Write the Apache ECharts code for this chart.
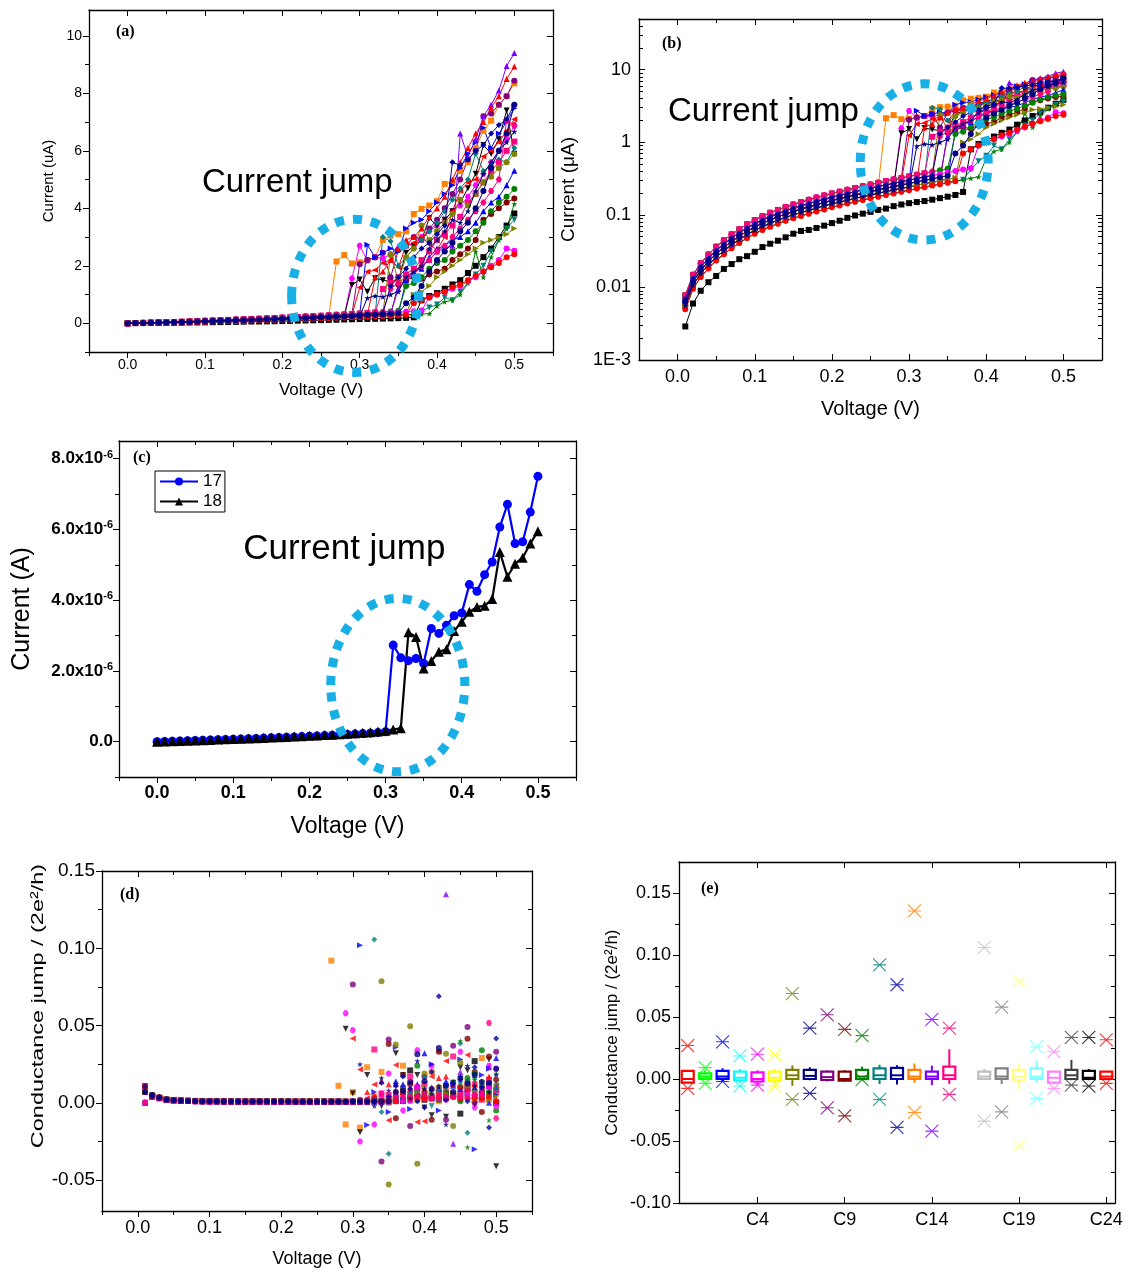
<!DOCTYPE html>
<html>
<head>
<meta charset="utf-8">
<script src="https://cdn.jsdelivr.net/npm/echarts@6/dist/echarts.min.js"></script>
<style>
  html, body { margin: 0; padding: 0; background: #fff; }
  #chart { width: 1136px; height: 1279px; }
</style>
</head>
<body>
<div id="chart"></div>
<script>
// ---------------------------------------------------------------------------
// Bias voltages (V) of the I-V sweeps
const volts = [0.00, 0.01, 0.02, 0.03, 0.04, 0.05, 0.06, 0.07, 0.08, 0.09,
  0.10, 0.11, 0.12, 0.13, 0.14, 0.15, 0.16, 0.17, 0.18, 0.19,
  0.20, 0.21, 0.22, 0.23, 0.24, 0.25, 0.26, 0.27, 0.28, 0.29,
  0.30, 0.31, 0.32, 0.33, 0.34, 0.35, 0.36, 0.37, 0.38, 0.39,
  0.40, 0.41, 0.42, 0.43, 0.44, 0.45, 0.46, 0.47, 0.48, 0.49, 0.50];

// Low-bias branches of the sweeps (uA), before the current jump
const lowA = [0, .0078, .0149, .0216, .0284, .0365, .0446, .054, .0635, .0743, .085, .0959, .107, .117, .128, .139, .150, .161, .173, .185, .197, .209, .221, .235, .248, .262, .277, .292, .306, .323, .339, .356, .374, .393, .412, .432, .452, .474, .495, .518, .541];
const lowB = [0, .0070, .0132, .0192, .0252, .0324, .0396, .048, .0564, .066, .0756, .0852, .0948, .104, .114, .124, .133, .143, .154, .164, .175, .186, .197, .209, .221, .233, .246, .259, .272, .287, .301, .317, .332, .349, .366, .384, .402, .421, .440, .461, .481];
const lowC = [0, .0063, .0119, .0173, .0227, .0292, .0356, .0432, .0508, .0594, .068, .0767, .0853, .094, .1026, .111, .120, .129, .138, .148, .158, .167, .177, .188, .199, .210, .221, .233, .245, .258, .271, .285, .299, .314, .329, .346, .362, .379, .396, .415, .433];
const lowD = [0, .0056, .0107, .0155, .0204, .0262, .032, .0388, .0456, .0534, .0611, .0689, .0766, .0844, .0922, .0999, .108, .115, .124, .133, .142, .150, .159, .169, .178, .188, .199, .210, .220, .232, .243, .256, .269, .282, .296, .310, .325, .340, .356, .372, .389];
const lowE = [0, .0050, .0096, .0139, .0183, .0235, .0287, .0348, .0409, .0479, .0548, .0618, .0687, .0757, .0827, .0896, .0966, .104, .111, .119, .127, .135, .143, .151, .160, .169, .178, .188, .197, .208, .218, .230, .241, .253, .265, .278, .291, .305, .319, .334, .349];
const lowBlack = [0, .0029, .0060, .0090, .0118, .0144, .018, .021, .0245, .027, .031, .036, .040, .044, .049, .055, .060, .062, .066, .071, .077, .083, .091, .098, .104, .110, .117, .122, .132, .139, .145, .150, .155, .162, .170, .178, .188, .207];

// Current (uA) from the jump up to 0.50 V, one array per sweep
const iv1 = [0.80, 0.95, 1.05, 1.2, 1.35, 1.5, 1.75, 2.0, 2.3, 2.6, 3.0, 3.4, 3.82];
const iv2 = [2.15, 2.37, 2.08, 2.12, 2.2, 2.3, 2.9, 3.05, 3.1, 3.2, 3.8, 3.98, 4.1, 4.25, 4.85, 4.92, 5.3, 5.6, 6.1, 6.7, 7.05, 7.6, 7.9, 8.35];
const iv3 = [1.56, 2.7, 2.18, 2.3, 2.25, 2.4, 2.6, 2.8, 2.7, 3.0, 3.2, 3.4, 3.6, 3.9, 4.1, 4.4, 4.8, 5.2, 5.6, 6.0, 6.4, 6.86];
const iv4 = [1.33, 1.52, 1.1, 1.57, 1.5, 1.45, 1.5, 2.45, 2.7, 2.9, 3.65, 3.4, 3.6, 3.9, 4.2, 4.7, 5.2, 6.2, 5.9, 6.4, 7.4, 5.9];
const iv5 = [2.05, 2.2, 2.3, 2.45, 1.6, 2.55, 2.7, 3.0, 2.9, 3.3, 3.6, 4.0, 4.5, 5.0, 5.7, 6.0, 7.2, 7.3, 7.6, 7.9, 8.44];
const iv6 = [1.24, 1.79, 1.85, 2.1, 2.2, 1.95, 2.7, 2.8, 3.0, 2.75, 2.55, 3.0, 3.9, 4.6, 4.9, 5.0, 5.8, 6.0, 6.3, 6.7, 7.1];
const iv7 = [2.73, 2.3, 2.45, 2.6, 2.5, 3.3, 3.5, 3.6, 3.9, 4.2, 4.5, 4.8, 5.4, 5.9, 6.3, 6.8, 6.1, 6.6, 7.0, 7.48];
const iv8 = [0.88, 0.95, 0.92, 1.0, 1.1, 1.6, 1.8, 2.0, 2.6, 2.9, 3.2, 3.6, 3.5, 3.9, 4.6, 5.2, 5.6, 6.0, 6.3, 6.67];
const iv9 = [3.0, 2.85, 2.0, 2.3, 2.6, 2.9, 3.2, 3.5, 3.9, 4.3, 4.7, 5.0, 5.9, 5.3, 5.5, 5.7, 5.6, 6.1];
const iv10 = [1.19, 1.4, 1.6, 1.7, 1.9, 2.2, 2.5, 2.9, 3.1, 3.4, 3.7, 4.2, 4.5, 4.9, 5.3, 5.6, 6.0, 6.32];
const iv11 = [2.38, 1.5, 2.3, 2.6, 3.4, 2.9, 3.2, 3.5, 3.8, 4.3, 4.1, 4.5, 4.9, 5.1, 5.4, 5.6, 5.89];
const iv12 = [1.35, 1.5, 1.6, 1.55, 1.7, 1.8, 1.9, 2.2, 2.4, 2.6, 2.9, 3.6, 3.8, 4.0, 4.2, 4.34];
const iv13 = [1.3, 1.6, 1.9, 2.3, 2.6, 2.8, 3.1, 3.4, 5.6, 5.5, 5.7, 6.0, 6.2, 6.6, 6.9, 7.1, 7.6];
const iv14 = [1.2, 1.5, 1.7, 2.0, 2.2, 2.5, 2.6, 2.7, 6.6, 5.8, 6.4, 7.2, 7.6, 8.1, 8.95, 9.4];
const iv15 = [1.5, 1.8, 1.9, 2.3, 2.6, 2.7, 2.9, 3.0, 3.2, 3.5, 3.9, 4.2, 4.4, 4.8, 5.31];
const iv16 = [1.3, 1.4, 1.6, 1.9, 2.1, 2.2, 2.5, 2.7, 2.9, 3.2, 3.5, 3.9, 4.2, 4.4, 4.67];
const iv17 = [1.6, 1.8, 2.2, 2.6, 2.9, 3.0, 3.3, 3.7, 4.0, 4.4, 5.0, 5.6, 6.1, 6.6, 7.0, 7.5, 7.9, 8.5, 8.93];
const iv18 = [0.42, 0.55, 0.65, 0.9, 0.8, 1.1, 1.4, 1.7, 2.0, 2.5, 2.9, 3.3, 3.6];
const iv19 = [0.6, 0.75, 0.8, 1.0, 1.4, 2.5, 1.6, 2.3, 2.9, 3.3, 4.15];
const iv20 = [1.0, 1.1, 1.3, 1.6, 1.8, 2.0, 2.2, 2.4, 2.6, 2.8, 2.9, 3.0, 3.1, 3.3];
const iv21 = [0.9, 1.0, 1.1, 1.2, 1.3, 1.45, 1.6, 1.8, 2.0, 2.2, 2.6, 2.52];
const iv22 = [0.7, 0.8, 0.9, 1.0, 1.1, 1.25, 1.35, 1.5, 1.65, 1.8, 1.95, 2.1, 2.3, 2.4];
const iv23 = [0.7, 0.9, 1.3, 1.8, 2.2, 2.5, 2.8, 3.2, 3.5, 4.0, 4.6, 5.4, 6.0, 6.6, 7.6];
const iv24 = [1.2, 1.4, 1.6, 1.8, 2.0, 2.2, 2.5, 2.7, 3.0, 3.3, 3.6, 3.9, 4.2, 4.6, 5.0, 7.05, 6.9];

// Conductance steps (units of 2e^2/h) between successive bias points, 0.01 V upward
const dgBaseA = [0.0105, 0.004, 0.003, 0.002, 0.0017, 0.0015, 0.0013, 0.0012, 0.0011, 0.0011, 0.0010, 0.0010, 0.0010, 0.0009, 0.0009, 0.0009, 0.0009, 0.0009, 0.0008, 0.0008, 0.0008, 0.0008, 0.0008, 0.0008, 0.0008, 0.0008, 0.0008, 0.0008, 0.0008, 0.0008, 0.0009, 0.0009, 0.0010, 0.0010, 0.0011, 0.0011, 0.0012, 0.0012, 0.0013, 0.0013];
const dgBaseB = [0.0070, 0.0050, 0.0035, 0.0022, 0.0017, 0.0014, 0.0012, 0.0011, 0.0010, 0.0010, 0.0010, 0.0009, 0.0009, 0.0009, 0.0008, 0.0008, 0.0008, 0.0008, 0.0008, 0.0008, 0.0008, 0.0007, 0.0007, 0.0007, 0.0007, 0.0007, 0.0007, 0.0007, 0.0007, 0.0008, 0.0008, 0.0009, 0.0009, 0.0010, 0.0010, 0.0011, 0.0011, 0.0012, 0.0012, 0.0013];
const dgBaseC = [0.0000, 0.0045, 0.0032, 0.0020, 0.0016, 0.0013, 0.0011, 0.0010, 0.0010, 0.0009, 0.0009, 0.0008, 0.0008, 0.0008, 0.0008, 0.0007, 0.0007, 0.0007, 0.0007, 0.0007, 0.0007, 0.0007, 0.0006, 0.0006, 0.0006, 0.0006, 0.0006, 0.0006, 0.0006, 0.0007, 0.0007, 0.0008, 0.0008, 0.0009, 0.0009, 0.0010, 0.0010, 0.0011, 0.0011, 0.0012];
const dg1 = [0.021, 0.004, 0.002, 0.003, 0.002, 0.003, 0.005, -0.007, 0.009, 0.027, 0.006, 0.011, 0.000];
const dg2 = [0.092, 0.011, -0.014, 0.007, -0.016, 0.023, 0.004, 0.020, 0.000, 0.003, 0.024, 0.005, 0.002, 0.003, 0.020, 0.001, 0.008, 0.006, 0.010, 0.013, 0.006, 0.029, 0.002, 0.007];
const dg3 = [0.058, 0.047, -0.025, 0.002, -0.014, 0.006, 0.019, 0.003, -0.005, 0.007, 0.034, 0.006, 0.024, 0.006, 0.002, 0.012, 0.033, 0.008, -0.003, 0.003, 0.024, 0.022];
const dg4 = [0.048, 0.006, -0.019, 0.018, 0.000, -0.002, 0.002, 0.032, 0.018, 0.003, 0.018, -0.003, -0.008, 0.004, -0.009, 0.013, 0.023, 0.021, -0.001, 0.008, 0.028, -0.041];
const dg5 = [0.0765, 0.002, 0.001, 0.003, -0.038, 0.041, 0.004, 0.009, -0.015, 0.008, 0.017, 0.004, 0.007, -0.011, 0.037, 0.002, 0.049, 0.000, 0.005, 0.012, 0.033];
const dg6 = [0.0416, 0.0216, 0.003, 0.0119, 0.001, -0.0112, 0.0244, 0.002, 0.013, -0.0124, -0.012, 0.017, 0.033, 0.027, 0.004, 0.006, 0.031, 0.004, 0.009, 0.010, 0.011];
const dg7 = [0.102, -0.0144, 0.007, 0.001, -0.006, 0.036, 0.002, -0.004, 0.009, 0.004, 0.025, -0.005, 0.011, 0.012, 0.028, 0.006, -0.030, 0.018, 0.022, 0.005];
const dg8 = [0.025, 0.001, -0.002, 0.016, 0.008, 0.012, 0.007, 0.003, 0.027, 0.009, 0.006, 0.011, -0.014, 0.012, 0.017, 0.024, 0.011, 0.010, 0.007, 0.018];
const dg9 = [0.1056, -0.006, -0.033, 0.007, 0.006, 0.005, 0.004, 0.006, 0.008, 0.008, 0.008, 0.004, 0.0384, -0.0194, 0.007, 0.008, 0.005, 0.012];
const dg10 = [0.0345, 0.006, 0.005, 0.002, 0.007, 0.017, 0.010, 0.012, 0.004, 0.009, 0.006, 0.030, 0.006, 0.010, 0.012, 0.002, 0.015, 0.008];
const dg11 = [0.0787, -0.0528, 0.0377, 0.010, 0.0496, -0.0394, 0.019, 0.004, 0.010, 0.0317, -0.015, 0.026, 0.011, 0.008, 0.011, 0.006, 0.010];
const dg12 = [0.038, -0.010, 0.018, 0.012, 0.005, 0.004, -0.011, 0.033, 0.006, 0.005, 0.010, 0.0414, 0.020, -0.006, 0.030, 0.015];
const dg13 = [0.013, 0.004, 0.011, 0.017, 0.009, 0.001, -0.003, 0.020, 0.069, 0.002, 0.013, 0.015, 0.001, 0.023, 0.010, -0.016, 0.0416];
const dg14 = [0.004, 0.012, 0.005, 0.010, 0.006, 0.009, 0.003, 0.004, 0.135, -0.0265, 0.020, 0.014, 0.005, 0.009, 0.023, 0.010];
const dg15 = [0.014, 0.012, 0.002, 0.012, 0.032, 0.003, 0.009, 0.014, 0.011, 0.009, 0.015, 0.010, 0.004, 0.000, 0.029];
const dg16 = [0.001, 0.006, 0.002, 0.024, 0.007, 0.003, 0.002, 0.006, 0.004, 0.001, 0.016, 0.019, 0.034, 0.007, -0.005];
const dg17 = [0.007, 0.005, 0.014, 0.012, 0.008, 0.002, 0.009, 0.011, 0.009, 0.010, 0.016, 0.017, 0.012, 0.011, 0.008, 0.012, 0.007, 0.017, 0.002];
const dg18 = [0.005, 0.006, 0.016, -0.002, 0.007, 0.010, 0.012, 0.012, 0.013, 0.015, 0.010, 0.012, 0.008];
const dg19 = [0.006, 0.005, 0.002, 0.006, 0.014, 0.040, -0.0287, 0.015, 0.014, -0.0112, 0.019];
const dg20 = [0.008, 0.004, 0.007, 0.010, 0.006, 0.006, 0.006, 0.006, 0.005, 0.005, 0.002, 0.002, 0.002, 0.004];
const dg21 = [0.010, 0.003, 0.003, 0.003, 0.003, 0.004, 0.004, 0.005, 0.005, 0.005, 0.010, -0.002];
const dg22 = [0.006, 0.003, 0.003, 0.003, 0.003, 0.004, 0.003, 0.004, 0.003, 0.003, 0.003, 0.003, 0.004, 0.001];
const dg23 = [0.007, 0.008, 0.0135, 0.0315, 0.014, 0.009, 0.0355, 0.011, 0.007, 0.016, 0.0125, 0.018, 0.0135, 0.013, 0.022];
const dg24 = [0.004, 0.004, 0.005, 0.004, 0.004, 0.004, 0.006, 0.003, 0.005, 0.004, 0.004, 0.004, 0.003, 0.005, 0.006, 0.0517, -0.010];

// Two selected sweeps, current in uA (axis shows amperes)
const sweep17 = [0, .006, .012, .019, .026, .033, .040, .047, .054, .061, .068, .076, .084, .092, .100, .108, .116, .124, .133, .142, .151, .161, .171, .181, .192, .203, .215, .227, .240, .255, .280,
  2.73, 2.37, 2.29, 2.35, 2.21, 3.20, 3.06, 3.29, 3.56, 3.64, 4.44, 4.25, 4.72, 5.08, 6.07, 6.71, 5.60, 5.65, 6.49, 7.50];
const sweep18 = [0, .006, .013, .020, .027, .034, .041, .049, .057, .065, .073, .081, .089, .097, .106, .115, .124, .133, .143, .153, .163, .174, .185, .197, .209, .222, .236, .251, .267, .284, .310, .340, .380,
  3.09, 2.96, 2.07, 2.28, 2.54, 2.61, 3.13, 3.39, 3.67, 3.81, 3.84, 4.03, 5.36, 4.66, 5.03, 5.20, 5.60, 5.95];

// Per-sweep statistics of the conductance steps
const catNames = ['C0', 'C1', 'C2', 'C3', 'C4', 'C5', 'C6', 'C7', 'C8', 'C9', 'C10', 'C11', 'C12', 'C13', 'C14', 'C15', 'C16', 'C17', 'C18', 'C19', 'C20', 'C21', 'C22', 'C23', 'C24'];
const stepMax = [0.027, 0.0092, 0.030, 0.0186, 0.020, 0.0194, 0.0689, 0.041, 0.0518, 0.040, 0.035, 0.092, 0.076, 0.1355, 0.048, 0.041, 0.050, 0.106, 0.058, 0.079, 0.026, 0.022, 0.0335, 0.0335, 0.0316];
const stepMin = [-0.0076, -0.0035, -0.002, -0.0057, -0.0049, -0.0057, -0.0165, -0.0116, -0.0232, -0.0297, -0.0005, -0.0165, -0.039, -0.027, -0.042, -0.0124, -0.02, -0.034, -0.0265, -0.054, -0.0157, -0.0076, -0.0049, -0.0057, -0.0035];
const whiskHigh = [0.007, 0.007, 0.0086, 0.008, 0.007, 0.008, 0.011, 0.0095, 0.007, 0.007, 0.010, 0.0115, 0.011, 0.0125, 0.0108, 0.024, 0.008, 0.008, 0.0086, 0.012, 0.015, 0.006, 0.0154, 0.008, 0.006];
const boxQ3 = [0.0065, 0.0046, 0.0065, 0.006, 0.0054, 0.006, 0.0073, 0.0073, 0.006, 0.006, 0.0073, 0.0086, 0.009, 0.0073, 0.006, 0.010, 0.006, 0.006, 0.0086, 0.0073, 0.0086, 0.006, 0.0073, 0.0065, 0.006];
const boxMed = [0.0, 0.002, 0.002, 0.001, 0.0, 0.001, 0.003, 0.0025, 0.0015, 0.0, 0.002, 0.003, 0.003, 0.002, 0.002, 0.003, 0.002, 0.002, 0.002, 0.002, 0.002, 0.001, 0.003, 0.001, 0.002];
const boxQ1 = [-0.003, 0.0, 0.0, -0.001, -0.002, -0.0016, 0.0, 0.0, -0.0008, -0.0013, 0.0, 0.0, 0.0, 0.0, 0.0, 0.0, 0.0, 0.0, 0.0, -0.0008, 0.0, -0.003, 0.0, 0.0, 0.0];
const whiskLow = [-0.003, -0.001, -0.002, -0.003, -0.004, -0.004, -0.0055, -0.001, -0.002, -0.002, -0.001, -0.004, -0.0045, -0.003, -0.005, -0.004, -0.001, -0.001, -0.004, -0.009, -0.003, -0.004, -0.001, -0.001, -0.001];

// Axis ticks
const vMajor = [0, 0.1, 0.2, 0.3, 0.4, 0.5];
const vMinor = [-0.05, 0.05, 0.15, 0.25, 0.35, 0.45, 0.55];
const iMajor = [0, 2, 4, 6, 8, 10];
const iMinor = [-1, 1, 3, 5, 7, 9];
const logMajor = [0.001, 0.01, 0.1, 1, 10];
const logMinor = [0.002, 0.003, 0.004, 0.005, 0.006, 0.007, 0.008, 0.009, 0.02, 0.03, 0.04, 0.05, 0.06, 0.07, 0.08, 0.09,
  0.2, 0.3, 0.4, 0.5, 0.6, 0.7, 0.8, 0.9, 2, 3, 4, 5, 6, 7, 8, 9, 20, 30, 40];
const aMajor = [0, 2, 4, 6, 8];
const aMinor = [-1, 1, 3, 5, 7];
const gMajorD = [-0.05, 0, 0.05, 0.10, 0.15];
const gMinorD = [-0.025, 0.025, 0.075, 0.125];
const gMajorE = [-0.10, -0.05, 0, 0.05, 0.10, 0.15];
const gMinorE = [-0.075, -0.025, 0.025, 0.075, 0.125];

// ---------------------------------------------------------------------------
// Sweep styles (Origin palette)
const SYM = {
  sq: 'rect', ci: 'circle', up: 'triangle', di: 'diamond',
  dn: 'path://M0,0L10,0L5,9Z',
  lf: 'path://M9,0L9,10L0,5Z',
  rt: 'path://M0,0L0,10L9,5Z',
  st: 'path://M5,0L6.2,3.6L10,3.6L6.9,5.9L8.1,9.5L5,7.3L1.9,9.5L3.1,5.9L0,3.6L3.8,3.6Z',
  hx: 'path://M2.5,0L7.5,0L10,4.33L7.5,8.66L2.5,8.66L0,4.33Z'
};
const runColors = ['#000000', '#FF8000', '#FF00FF', '#000000', '#800080', '#FF0000', '#0000FF', '#000080',
  '#008080', '#FF0080', '#808000', '#800000', '#0000A0', '#8000FF', '#0000FF', '#008000',
  '#FF0000', '#008080', '#008000', '#808000', '#FF00FF', '#FF0000', '#000080', '#FF0080'];
const runSymbols = ['sq', 'sq', 'hx', 'dn', 'ci', 'lf', 'rt', 'st', 'di', 'sq', 'ci', 'ci',
  'di', 'up', 'up', 'ci', 'up', 'dn', 'st', 'rt', 'ci', 'ci', 'ci', 'hx'];
const runLow = [lowBlack, lowB, lowC, lowC, lowA, lowB, lowC, lowD, lowC, lowA, lowB, lowD,
  lowB, lowC, lowD, lowA, lowC, lowE, lowE, lowD, lowB, lowE, lowC, lowA];
const runPost = [iv1, iv2, iv3, iv4, iv5, iv6, iv7, iv8, iv9, iv10, iv11, iv12,
  iv13, iv14, iv15, iv16, iv17, iv18, iv19, iv20, iv21, iv22, iv23, iv24];
const runDgBase = [dgBaseA, dgBaseB, dgBaseC, dgBaseA, dgBaseB, dgBaseC, dgBaseA, dgBaseB, dgBaseC, dgBaseA, dgBaseB, dgBaseC,
  dgBaseA, dgBaseB, dgBaseC, dgBaseA, dgBaseB, dgBaseC, dgBaseA, dgBaseB, dgBaseC, dgBaseA, dgBaseB, dgBaseC];
const runDg = [dg1, dg2, dg3, dg4, dg5, dg6, dg7, dg8, dg9, dg10, dg11, dg12,
  dg13, dg14, dg15, dg16, dg17, dg18, dg19, dg20, dg21, dg22, dg23, dg24];
// Navy sweeps sit on top of the others
const runOnTop = [7, 12, 22];
const boxColors = ['#FF0000', '#00FF00', '#0000FF', '#00FFFF', '#FF00FF', '#FFFF00', '#808000', '#000080',
  '#800080', '#800000', '#008000', '#008080', '#0000A0', '#FF8000', '#8000FF', '#FF0080',
  '#FFFFFF', '#C0C0C0', '#808080', '#FFFF80', '#80FFFF', '#FF80FF', '#404040', '#000000', '#FF0000'];

// ---------------------------------------------------------------------------
const SANS = '"Liberation Sans", Arial, sans-serif';
const SERIF = '"Liberation Serif", "Times New Roman", serif';
const CYAN = '#18afe6';

const grids = [
  { left: 89, top: 10, width: 464, height: 342 },   // (a)
  { left: 639, top: 19, width: 463, height: 341 },  // (b)
  { left: 119, top: 441, width: 457, height: 336 }, // (c)
  { left: 102, top: 871, width: 430, height: 340 }, // (d)
  { left: 679, top: 862, width: 436, height: 341 }  // (e)
];

const xAxes = [];
const yAxes = [];
const frameLine = { show: true, onZero: false, lineStyle: { color: '#000', width: 1.3 } };
// minor-tick companions keep a line (invisible) so their ticks sit on the frame edge
const ghostLine = { show: true, onZero: false, lineStyle: { color: 'rgba(0,0,0,0)', width: 0 } };
const tickLine = { color: '#000', width: 1 };

// Origin-style frame: labelled axis with long major / short minor ticks, mirrored on the far side
function frameAxes(list, dim, gridIndex, c) {
  const sides = dim === 'x' ? ['bottom', 'top'] : ['left', 'right'];
  const shared = {
    type: c.type || 'value', gridIndex, min: c.min, max: c.max,
    splitLine: { show: false }, axisPointer: { show: false }
  };
  if (c.interval) shared.interval = c.interval;
  if (c.type === 'log') shared.logBase = 10;
  const main = list.length;
  list.push(Object.assign({}, shared, {
    position: sides[0], axisLine: frameLine,
    axisTick: { show: true, inside: !!c.inside, length: 6, lineStyle: tickLine, customValues: c.major },
    axisLabel: Object.assign({
      show: true, customValues: c.major, margin: c.margin, color: '#000',
      fontFamily: SANS, fontSize: c.fontSize, fontWeight: c.bold ? 'bold' : 'normal', formatter: c.fmt
    }, c.label || {}),
    name: c.name || '', nameLocation: 'middle', nameGap: c.nameGap || 0,
    nameTextStyle: { fontFamily: SANS, fontSize: c.nameSize || 12, color: '#000' }
  }));
  list.push(Object.assign({}, shared, {
    position: sides[0], axisLine: ghostLine,
    axisTick: { show: true, inside: !!c.inside, length: 4, lineStyle: tickLine, customValues: c.minor },
    axisLabel: { show: false }
  }));
  list.push(Object.assign({}, shared, {
    position: sides[1], axisLine: frameLine,
    axisTick: { show: true, inside: true, length: 6, lineStyle: tickLine, customValues: c.major },
    axisLabel: { show: false }
  }));
  list.push(Object.assign({}, shared, {
    position: sides[1], axisLine: ghostLine,
    axisTick: { show: true, inside: true, length: 4, lineStyle: tickLine, customValues: c.minor },
    axisLabel: { show: false }
  }));
  return main;
}

const fmtV = v => v.toFixed(1);
const fmtG = v => v.toFixed(2);

// (a) linear I-V
const axA = frameAxes(xAxes, 'x', 0, { min: -0.05, max: 0.55, interval: 0.05, major: vMajor, minor: vMinor, fmt: fmtV, fontSize: 14, margin: 6, name: 'Voltage (V)', nameGap: 30, nameSize: 17 });
const ayA = frameAxes(yAxes, 'y', 0, { min: -1, max: 10.9, interval: 1, major: iMajor, minor: iMinor, fmt: v => String(v), fontSize: 14, margin: 7, name: 'Current (uA)', nameGap: 33, nameSize: 15 });
// (b) log I-V
const axB = frameAxes(xAxes, 'x', 1, { min: -0.05, max: 0.55, interval: 0.05, major: vMajor, minor: vMinor, fmt: fmtV, fontSize: 18, margin: 8, inside: true, name: 'Voltage (V)', nameGap: 39, nameSize: 20 });
const ayB = frameAxes(yAxes, 'y', 1, {
  type: 'log', min: 0.001, max: 50, major: logMajor, minor: logMinor, fontSize: 18, margin: 8, inside: true,
  fmt: v => { const e = Math.round(Math.log10(v)); return e === -3 ? '1E-3' : (e < 0 ? v.toFixed(-e) : String(Math.round(v))); },
  name: 'Current (\u03bcA)', nameGap: 61, nameSize: 19
});
// (c) two sweeps, amperes
const axC = frameAxes(xAxes, 'x', 2, { min: -0.05, max: 0.55, interval: 0.05, major: vMajor, minor: vMinor, fmt: fmtV, fontSize: 18, bold: true, margin: 7, name: 'Voltage (V)', nameGap: 38, nameSize: 23 });
const ayC = frameAxes(yAxes, 'y', 2, {
  min: -1, max: 8.5, interval: 0.5, major: aMajor, minor: aMinor, fontSize: 17, bold: true, margin: 6,
  fmt: v => v === 0 ? '{b|0.0}' : '{b|' + v.toFixed(1) + 'x10}{s|-6}',
  label: { rich: {
    b: { fontFamily: SANS, fontWeight: 'bold', fontSize: 17, color: '#000' },
    s: { fontFamily: SANS, fontWeight: 'bold', fontSize: 11, color: '#000', verticalAlign: 'top', padding: [0, 0, 8, 0] }
  } },
  name: 'Current (A)', nameGap: 84, nameSize: 25
});
// (d) conductance steps vs voltage
const axD = frameAxes(xAxes, 'x', 3, { min: -0.05, max: 0.55, interval: 0.05, major: vMajor, minor: vMinor, fmt: fmtV, fontSize: 18, margin: 8, name: 'Voltage (V)', nameGap: 39, nameSize: 18 });
const ayD = frameAxes(yAxes, 'y', 3, { min: -0.07, max: 0.15, interval: 0.01, major: gMajorD, minor: gMinorD, fmt: fmtG, fontSize: 19, margin: 7 });
// (e) per-sweep statistics
const ayE = frameAxes(yAxes, 'y', 4, { min: -0.10, max: 0.175, interval: 0.025, major: gMajorE, minor: gMinorE, fmt: fmtG, fontSize: 18, margin: 8, name: 'Conductance jump / (2e\u00b2/h)', nameGap: 58, nameSize: 17 });
const everyFifth = i => i % 5 === 4;
const axE = xAxes.length;
xAxes.push({
  type: 'category', gridIndex: 4, data: catNames, position: 'bottom', boundaryGap: true,
  axisLine: frameLine, splitLine: { show: false },
  axisTick: { show: true, inside: true, alignWithLabel: true, interval: everyFifth, length: 6, lineStyle: tickLine },
  axisLabel: { interval: everyFifth, margin: 8, fontFamily: SANS, fontSize: 18, color: '#000' }
});
xAxes.push({
  type: 'category', gridIndex: 4, data: catNames, position: 'top', boundaryGap: true,
  axisLine: frameLine, splitLine: { show: false },
  axisTick: { show: true, inside: true, alignWithLabel: true, interval: everyFifth, length: 6, lineStyle: tickLine },
  axisLabel: { show: false }
});

// ---------------------------------------------------------------------------
const series = [];
const curves = runPost.map((post, k) => runLow[k].slice(0, volts.length - post.length).concat(post));
const stepVolts = volts.slice(1);
const steps = runDg.map((post, k) => runDgBase[k].slice(0, stepVolts.length - post.length).concat(post));
const layerOf = k => (runOnTop.indexOf(k) >= 0 ? 3 : 2);

const firstA = series.length;
curves.forEach((cur, k) => {
  series.push({
    type: 'line', name: 'a' + (k + 1), xAxisIndex: axA, yAxisIndex: ayA, z: layerOf(k),
    data: cur.map((c, i) => [volts[i], c]),
    symbol: SYM[runSymbols[k]], symbolSize: 6, showAllSymbol: true,
    lineStyle: { width: 1, color: runColors[k] }, itemStyle: { color: runColors[k] }
  });
});
const firstB = series.length;
curves.forEach((cur, k) => {
  series.push({
    type: 'line', name: 'b' + (k + 1), xAxisIndex: axB, yAxisIndex: ayB, z: layerOf(k),
    data: cur.map((c, i) => [volts[i], c]).slice(1),
    symbol: SYM[runSymbols[k]], symbolSize: 6, showAllSymbol: true,
    lineStyle: { width: 1, color: runColors[k] }, itemStyle: { color: runColors[k] }
  });
});
const firstC = series.length;
series.push({
  type: 'line', name: '17', xAxisIndex: axC, yAxisIndex: ayC,
  data: sweep17.map((c, i) => [volts[i], c]),
  symbol: 'circle', symbolSize: 9, showAllSymbol: true,
  lineStyle: { width: 2.2, color: '#0000FF' }, itemStyle: { color: '#0000FF' }
});
series.push({
  type: 'line', name: '18', xAxisIndex: axC, yAxisIndex: ayC,
  data: sweep18.map((c, i) => [volts[i], c]),
  symbol: 'triangle', symbolSize: 10, showAllSymbol: true,
  lineStyle: { width: 2.2, color: '#000000' }, itemStyle: { color: '#000000' }
});
steps.forEach((g, k) => {
  series.push({
    type: 'scatter', name: 'd' + (k + 1), xAxisIndex: axD, yAxisIndex: ayD, z: layerOf(k),
    data: g.map((v, i) => [stepVolts[i], v]),
    symbol: SYM[runSymbols[k]], symbolSize: 6,
    itemStyle: { color: runColors[k] }
  });
});

function renderBox(params, api) {
  const i = api.value(0);
  const x = api.coord([i, 0])[0];
  const y = v => api.coord([i, v])[1];
  const col = boxColors[i];
  const hw = 6;
  const lo = y(api.value(1)), q1 = y(api.value(2)), md = y(api.value(3)), q3 = y(api.value(4)), hi = y(api.value(5));
  const ls = { stroke: col, lineWidth: 2, fill: null };
  return {
    type: 'group', children: [
      { type: 'line', shape: { x1: x, y1: hi, x2: x, y2: q3 }, style: ls },
      { type: 'line', shape: { x1: x, y1: q1, x2: x, y2: lo }, style: ls },
      { type: 'rect', shape: { x: x - hw, y: q3, width: 2 * hw, height: Math.max(q1 - q3, 1) }, style: { stroke: col, lineWidth: 2.2, fill: 'rgba(255,255,255,0)' } },
      { type: 'line', shape: { x1: x - hw, y1: md, x2: x + hw, y2: md }, style: ls }
    ]
  };
}
series.push({
  type: 'custom', name: 'boxes', xAxisIndex: axE, yAxisIndex: ayE,
  renderItem: renderBox, encode: { x: 0, y: [1, 2, 3, 4, 5] },
  data: catNames.map((c, i) => [i, whiskLow[i], boxQ1[i], boxMed[i], boxQ3[i], whiskHigh[i]])
});
const extremes = [];
catNames.forEach((c, i) => {
  extremes.push({ value: [i, stepMax[i]], itemStyle: { borderColor: boxColors[i] } });
  extremes.push({ value: [i, stepMin[i]], itemStyle: { borderColor: boxColors[i] } });
});
series.push({
  type: 'scatter', name: 'extremes', xAxisIndex: axE, yAxisIndex: ayE,
  symbol: 'path://M0,0L10,10M10,0L0,10M0,5L10,5', symbolSize: 13,
  itemStyle: { color: 'rgba(0,0,0,0)', borderWidth: 1.1 },
  data: extremes
});

const option = {
  animation: false,
  backgroundColor: '#fff',
  grid: grids,
  xAxis: xAxes,
  yAxis: yAxes,
  legend: {
    data: ['17', '18'], left: 155, top: 471, orient: 'vertical',
    itemWidth: 38, itemHeight: 10, itemGap: 3, padding: [2, 3, 2, 4],
    borderColor: '#000', borderWidth: 1, borderRadius: 0,
    textStyle: { fontFamily: SANS, fontSize: 17, color: '#000' }
  },
  series: series
};

const chart = echarts.init(document.getElementById('chart'), null, { renderer: 'canvas' });
chart.setOption(option);

// ---------------------------------------------------------------------------
// Annotations placed in data space of each panel
const px = (si, p) => chart.convertToPixel({ seriesIndex: si }, p);
function ellipseFrom(si, v0, v1, i0, i1) {
  const a = px(si, [v0, i0]);
  const b = px(si, [v1, i1]);
  return {
    type: 'ellipse', z: 100, silent: true,
    shape: { cx: (a[0] + b[0]) / 2, cy: (a[1] + b[1]) / 2, rx: Math.abs(b[0] - a[0]) / 2, ry: Math.abs(a[1] - b[1]) / 2 },
    style: { fill: null, stroke: CYAN, lineWidth: 9, lineDash: [9, 9] }
  };
}
function noteAt(si, v, i, size) {
  const p = px(si, [v, i]);
  return {
    type: 'text', z: 100, silent: true, x: p[0], y: p[1],
    style: { text: 'Current jump', font: size + 'px ' + SANS, fill: '#000', align: 'left', verticalAlign: 'middle' }
  };
}
function tag(text, left, top) {
  return { type: 'text', z: 100, silent: true, x: left, y: top,
    style: { text, font: 'bold 16px ' + SERIF, fill: '#000', align: 'left', verticalAlign: 'top' } };
}
const gD = grids[3];
chart.setOption({
  graphic: [
    ellipseFrom(firstA, 0.212, 0.376, -1.71, 3.62),
    ellipseFrom(firstB, 0.2367, 0.4025, 0.045, 6.4),
    ellipseFrom(firstC, 0.228, 0.404, -0.85, 4.05),
    noteAt(firstA, 0.096, 4.88, 33),
    noteAt(firstB, -0.0124, 2.62, 33),
    noteAt(firstC, 0.113, 5.45, 35),
    tag('(a)', 116, 24),
    tag('(b)', 662, 36),
    tag('(c)', 133, 450),
    tag('(d)', 120, 887),
    tag('(e)', 701, 881),
    {
      type: 'text', silent: true, x: gD.left - 64, y: gD.top + 135,
      rotation: Math.PI / 2, scaleX: 1.38,
      style: { text: 'Conductance jump / (2e\u00b2/h)', font: '17px ' + SANS, fill: '#000', align: 'center', verticalAlign: 'middle' }
    }
  ]
});
</script>
</body>
</html>
